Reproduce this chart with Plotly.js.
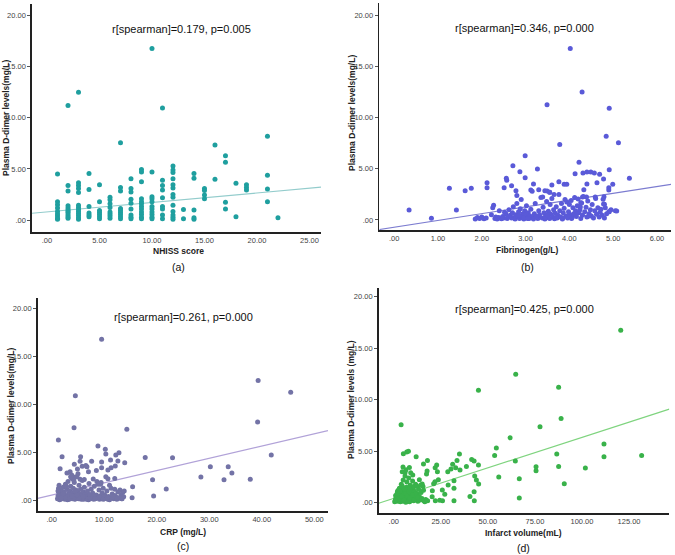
<!DOCTYPE html>
<html><head><meta charset="utf-8">
<script src="https://cdn.plot.ly/plotly-3.0.1.min.js"></script>
<style>html,body{margin:0;padding:0;background:#fff}#c{width:675px;height:555px}</style>
</head><body><div id="c"></div>
<script>
// ---------- Panel (a): NHISS score vs D-dimer ----------
var aX = [1,1,1,1,1,1,1,1,1,
 2,2,2,2,2,2,2,2,2,2,2,
 3,3,3,3,3,3,3,3,3,3,3,3,3,
 4,4,4,4,4,4,
 5,5,5,5,5,5,5,
 6,6,6,6,6,6,6,6,
 7,7,7,7,7,7,7,7,7,
 8,8,8,8,8,8,8,8,8,
 9,9,9,9,9,9,9,9,9,9,9,9,
 10,10,10,10,10,10,10,10,10,10,10,
 11,11,11,11,11,11,11,11,11,
 12,12,12,12,12,12,12,12,12,12,12,12,12,
 13,13,
 14,14,14,14,14,
 15,15,15,15,
 16,16,
 17,17,17,17,
 18,18,
 19,19,19,
 21,21,21,21,
 22];
var aY = [4.5,1.8,1.5,1.2,0.85,0.6,0.4,0.2,0.1,
 11.2,3.4,2.85,1.4,1.2,1.0,0.85,0.7,0.5,0.35,0.2,
 12.5,3.65,3.4,3.1,2.7,1.45,1.25,1.05,0.85,0.65,0.45,0.25,0.1,
 4.55,3.0,1.35,0.7,0.5,0.35,
 3.45,1.8,0.95,0.75,0.55,0.35,0.15,
 2.25,2.0,1.6,1.25,0.8,0.6,0.4,0.2,
 7.55,3.2,2.85,1.15,0.95,0.75,0.55,0.35,0.15,
 4.05,3.1,2.75,2.05,1.65,1.1,0.5,0.3,0.15,
 4.95,4.7,3.75,2.1,1.8,1.6,1.35,1.1,0.8,0.55,0.3,0.15,
 16.75,4.7,2.3,2.1,1.8,1.35,1.1,0.8,0.55,0.3,0.15,
 10.95,3.9,3.4,2.95,2.2,1.35,1.1,0.5,0.15,
 5.3,4.9,4.65,4.05,3.45,3.15,2.5,2.25,1.45,0.85,0.5,0.3,0.1,
 1.05,0.15,
 4.55,4.1,1.0,0.25,0.1,
 3.1,2.9,2.45,2.1,
 7.35,4.0,
 6.3,5.65,1.75,1.1,
 3.6,0.35,
 3.45,3.2,2.95,
 8.2,4.4,3.05,1.8,
 0.25];
var aFitX = [-1.43, 26.1], aFitY = [0.68, 3.22];

// ---------- Panel (b): Fibrinogen vs D-dimer ----------
var bX = [0.34,0.85,1.26,1.42,1.62,1.76,2.12,2.12,2.51,2.56,2.57,2.71,2.68,2.78,2.87,2.99,2.99,3.12,3.18,3.27,
 3.49,3.39,3.44,3.49,3.55,3.6,3.76,3.78,3.88,3.94,4.02,4.29,4.91,4.84,5.12,4.22,
 4.13,4.31,4.40,4.49,4.57,4.69,4.78,4.91,4.9,4.9,4.99,5.37,4.63,4.4,4.33,4.39,4.30,4.59,4.79,4.77,4.8,4.91,5.08,4.26,4.25,
 1.85,1.9,1.95,2.0,2.05,2.1,2.22,2.25,2.27,2.3,2.32,2.35,2.38,2.4,2.42,2.45,2.48,2.5,2.52,2.55,2.58,2.6,2.62,2.65,2.68,
 2.7,2.72,2.74,2.76,2.78,2.8,2.8,2.82,2.84,2.86,2.88,2.9,2.9,2.92,2.94,2.96,2.98,3.0,3.0,3.02,3.04,3.06,3.08,3.1,3.12,
 3.15,3.18,3.2,3.22,3.25,3.28,3.3,3.32,3.35,3.38,3.4,3.42,3.44,3.46,3.48,3.5,3.52,3.55,3.56,3.58,3.6,3.62,3.64,3.66,3.68,
 3.7,3.72,3.74,3.76,3.78,3.8,3.82,3.84,3.86,3.88,3.9,3.92,3.94,3.96,3.98,4.0,4.02,4.04,4.06,4.08,4.1,4.12,4.14,4.16,4.18,
 4.2,4.22,4.24,4.26,4.28,4.3,4.32,4.35,4.38,4.4,4.42,4.45,4.48,4.5,4.52,4.55,4.58,4.6,4.62,4.65,4.68,4.7,4.72,4.75,4.78,
 4.8,4.82,4.85,4.9,4.95,5.05,3.15,3.3,3.55,3.65,
 2.95,3.05,3.45,3.5,3.85,3.95,4.05,4.15,2.85,3.25,3.7,4.45];
var bY = [0.98,0.16,3.09,0.98,2.86,3.09,3.64,3.15,3.15,4.07,3.87,5.3,3.35,2.86,4.72,6.28,4.13,2.93,3.51,4.98,
 11.25,2.24,2.86,2.83,2.7,3.41,3.74,7.38,3.48,3.48,16.75,12.5,10.92,8.17,7.55,5.65,
 4.52,4.59,4.68,4.68,4.59,4.46,4.0,4.91,3.15,2.93,3.48,4.07,3.64,3.51,2.96,2.24,2.24,2.24,2.28,2.02,1.53,0.81,0.88,1.69,1.27,
 0.1,0.25,0.15,0.3,0.12,0.2,0.5,1.2,1.45,0.15,0.3,0.1,0.25,0.9,0.2,0.12,0.35,0.2,0.75,0.6,0.15,0.3,1.0,0.45,0.2,
 0.7,1.3,0.25,0.1,0.5,2.4,1.6,0.35,0.8,0.15,1.1,0.4,2.0,0.25,0.6,0.1,0.9,0.3,0.5,1.4,0.2,0.7,0.15,0.4,1.05,
 0.25,0.1,0.6,1.6,0.35,0.15,0.9,0.5,2.2,0.2,1.25,0.7,0.1,0.4,1.8,0.25,0.85,0.15,1.5,0.55,2.1,0.3,1.0,0.12,0.65,
 1.3,0.2,0.45,2.5,0.9,0.3,1.6,0.1,0.7,1.15,2.0,0.4,1.75,0.2,0.8,1.5,0.5,1.9,0.25,1.2,0.6,2.2,0.9,0.35,1.4,
 2.05,0.7,1.0,0.15,1.65,0.45,2.3,0.8,1.25,0.3,1.85,0.6,1.0,0.4,1.5,0.2,0.9,2.1,0.55,1.2,0.3,0.75,1.05,0.45,1.55,
 0.2,1.2,0.6,0.8,1.0,0.9,2.8,2.95,2.7,2.5,
 0.2,0.15,0.3,0.5,0.2,0.35,0.15,0.5,0.45,0.3,0.25,0.4];
var bFitX = [-0.34, 6.32], bFitY = [-0.93, 3.48];

// ---------- Panel (c): CRP vs D-dimer ----------
var cX = [9.5,4.5,4.25,14.3,1.27,1.97,1.59,39.3,45.5,39.2,41.8,17.8,23.0,30.2,33.6,34.3,28.4,32.8,37.8,19.2,21.8,15.4,15.3,19.4,
 8.8,10.2,10.3,12.8,12.2,5.5,5.4,4.3,6.7,5.8,6.5,7.6,9.5,11.2,12.6,13.9,12.1,11.3,10.7,9.5,8.5,7.0,4.9,3.5,2.9,3.8,4.5,5.4,
 1.1,1.2,1.3,1.3,1.4,1.5,1.6,1.7,1.8,1.9,2.0,2.1,2.2,2.3,2.4,2.5,2.6,2.7,2.8,2.9,3.0,3.1,3.2,3.3,3.4,3.5,3.6,3.7,3.8,3.9,
 4.0,4.1,4.2,4.3,4.4,4.5,4.6,4.7,4.8,4.9,5.0,5.1,5.2,5.3,5.4,5.5,5.6,5.7,5.8,5.9,6.0,6.1,6.2,6.4,6.5,6.6,6.8,7.0,7.1,7.2,
 7.4,7.5,7.6,7.8,8.0,8.1,8.2,8.4,8.5,8.6,8.8,9.0,9.1,9.2,9.3,9.5,9.6,9.8,10.0,10.1,10.3,10.5,10.7,10.8,11.0,11.2,11.5,11.8,
 12.0,12.2,12.4,12.6,12.8,13.0,13.2,13.4,13.5,13.7,13.8,
 1.5,2.0,2.5,3.0,3.5,4.0,4.5,5.0,5.5,6.0,6.5,7.0,8.0,9.0,10.0,11.0,12.0,13.0,2.2,3.3,4.4,5.5,1.2,2.8,3.6,4.2,5.0,6.2,7.9,10.3,10.7,12.0,9.4,11.3,8.8,
 1.8,2.6,3.4,4.6,5.2,6.8,7.3,8.3,9.8,10.6,11.6,12.4,13.3,3.9,4.8,6.0,7.2];
var cY = [16.78,10.92,7.59,7.42,6.31,4.58,3.33,12.5,11.26,8.18,4.75,4.5,4.47,3.54,3.54,2.88,2.46,2.18,2.22,2.18,1.21,1.46,0.31,0.49,
 5.68,5.34,4.85,4.99,4.75,4.58,4.09,3.78,3.54,3.57,3.67,4.09,4.02,4.23,4.12,3.95,3.6,3.43,3.19,3.43,3.15,3.0,3.29,3.02,2.88,2.67,2.46,2.22,
 0.2,0.5,0.9,1.3,1.6,0.3,0.15,0.7,1.1,0.4,0.2,0.6,1.4,0.3,0.9,0.15,1.7,0.5,0.25,1.2,0.4,2.0,0.7,0.15,1.0,0.3,1.5,0.55,2.3,0.2,
 0.8,1.3,0.35,1.9,0.15,0.6,1.1,0.25,2.5,0.45,0.9,0.2,1.6,0.35,0.7,1.2,0.15,0.5,2.1,0.3,0.9,0.2,1.4,0.4,0.7,0.15,1.0,0.3,1.8,0.5,
 0.2,1.2,0.35,0.8,0.15,1.5,0.4,0.25,0.6,2.0,0.3,1.1,0.15,0.5,1.7,0.25,0.8,1.3,0.2,0.6,0.3,1.0,0.15,0.45,1.6,0.25,0.7,0.2,
 1.2,0.4,0.15,0.9,0.3,1.1,0.6,0.2,0.85,0.4,1.0,
 0.1,0.35,0.5,0.1,0.6,0.3,0.2,0.45,0.3,0.15,0.35,0.1,0.5,0.35,0.45,0.1,0.55,0.25,0.75,0.45,1.0,0.55,1.0,1.5,2.5,2.1,2.8,2.2,2.25,2.5,2.29,2.32,1.9,1.3,1.7,
 0.25,0.3,0.2,0.4,0.25,0.2,0.3,0.2,0.15,0.3,0.35,0.25,0.2,0.5,0.6,0.45,0.65];
var cFitX = [-2.67, 52.6], cFitY = [0.25, 7.28];

// ---------- Panel (d): Infarct volume vs D-dimer ----------
var dX = [120.6,64.8,45.0,87.6,3.9,88.9,77.7,61.8,54.5,53.6,64.6,55.8,66.7,66.7,75.6,75.6,86.6,87.6,90.6,101.8,111.7,111.7,131.7,
 34.9,45.0,41.4,42.7,33.6,31.3,30.4,28.7,32.9,38.6,35.2,43.0,43.9,45.1,40.5,42.7,42.8,32.0,32.0,32.0,28.9,27.1,25.8,
 22.0,22.8,23.2,21.9,21.2,23.7,20.5,20.4,22.1,24.4,25.9,17.9,15.8,17.7,17.4,11.9,6.9,7.8,5.1,4.9,8.3,6.0,10.1,13.6,15.1,
 0.5,1.0,1.5,2.0,2.2,2.5,3.0,3.2,3.5,3.8,4.0,4.2,4.5,4.8,5.0,5.2,5.5,5.8,6.0,6.2,6.5,6.8,7.0,7.2,7.5,7.8,8.0,8.2,8.5,8.8,
 9.0,9.2,9.5,9.8,10.0,10.3,10.6,11.0,11.3,11.6,12.0,12.4,12.8,13.2,13.6,14.0,14.5,15.0,15.5,16.0,3.0,4.0,5.0,6.0,7.0,8.0,
 9.0,10.0,4.5,6.5,2.0,1.0,3.6,5.6,7.6,9.6,11.6,13.6,6.6,8.6,10.6,2.8,4.8,6.4,8.4,12.2,14.2,15.8,17.0,18.0,16.5,
 1.2,2.6,3.4,4.4,5.4,6.3,7.3,8.7,9.4,10.8,11.8,12.6,1.8,2.4,3.3,4.6,5.7,7.9,9.9,0.8];
var dY = [16.74,12.47,10.92,11.21,7.56,8.17,7.37,6.3,5.3,4.59,4.04,2.49,2.33,0.45,3.49,3.1,4.72,3.52,1.84,3.36,5.69,4.46,4.59,
 4.72,3.65,4.2,4.04,4.1,3.72,3.26,3.0,3.39,3.52,3.17,2.58,2.2,1.81,0.61,1.07,0.19,2.13,1.39,0.19,1.71,0.81,1.23,
 3.39,3.65,3.0,2.04,1.84,2.23,1.16,0.58,0.19,0.23,0.19,4.1,3.75,3.07,2.78,4.46,4.91,5.0,4.75,3.46,3.42,2.94,2.68,2.23,1.81,
 0.1,0.3,0.2,0.5,0.15,0.8,0.3,0.6,0.1,1.0,0.4,0.25,0.7,1.3,0.15,0.5,0.9,0.3,1.1,0.2,0.6,1.5,0.4,0.8,0.15,1.2,0.5,0.3,0.9,1.7,
 0.2,0.6,1.0,0.35,1.4,0.7,0.2,1.1,0.5,1.8,0.3,0.9,0.15,1.3,0.6,0.25,1.0,0.4,1.6,0.2,1.4,1.8,2.2,2.6,2.0,2.4,
 2.9,2.1,3.0,3.2,1.1,0.7,0.45,0.65,0.95,0.55,0.85,0.35,1.25,1.35,1.55,0.9,0.2,0.05,0.1,1.6,1.7,1.2,0.3,0.2,0.1,
 0.45,0.35,0.75,0.55,0.25,0.95,0.65,0.45,0.8,0.25,0.6,0.5,0.9,1.2,1.1,1.6,1.3,1.05,0.75,0.2];
var dFitX = [-8, 146.4], dFitY = [-0.05, 9.08];

// ---------- tick labels ----------
var yTickVals = [0,5,10,15,20];
var yTickText = ['.00','5.00','10.00','15.00','20.00'];
var aTickVals = [0,5,10,15,20,25];
var aTickText = ['.00','5.00','10.00','15.00','20.00','25.00'];
var bTickVals = [0,1,2,3,4,5,6];
var bTickText = ['.00','1.00','2.00','3.00','4.00','5.00','6.00'];
var cTickVals = [0,10,20,30,40,50];
var cTickText = ['.00','10.00','20.00','30.00','40.00','50.00'];
var dTickVals = [0,25,50,75,100,125];
var dTickText = ['.00','25.00','50.00','75.00','100.00','125.00'];

var FONT = 'Liberation Sans, Arial, sans-serif';
var W = 675, H = 555;
function px(x){return x/W;}
function py(y){return 1-y/H;}

function ax(domain, range, tv, tt, isX){
  return {domain: domain, range: range, tickvals: tv, ticktext: tt,
    showgrid:false, zeroline:false, showline:true, linecolor:'#222', linewidth:1.6,
    ticks: isX ? '' : 'outside', ticklen: isX ? 0 : 3, tickwidth:1, tickcolor:'#555',
    tickfont:{family:FONT, size:7.5, color:'#444'}, fixedrange:true};
}

var panels = [
  {x:aX, y:aY, fx:aFitX, fy:aFitY, mc:'#1f9f9f', lc:'#93cccc', xa:'x', ya:'y'},
  {x:bX, y:bY, fx:bFitX, fy:bFitY, mc:'#5a5ad8', lc:'#7c7cd0', xa:'x2', ya:'y2'},
  {x:cX, y:cY, fx:cFitX, fy:cFitY, mc:'#7373a6', lc:'#b1a2d8', xa:'x3', ya:'y3'},
  {x:dX, y:dY, fx:dFitX, fy:dFitY, mc:'#39b24a', lc:'#7fd47f', xa:'x4', ya:'y4'}
];
var data = [];
panels.forEach(function(p){
  data.push({type:'scatter', mode:'lines', x:p.fx, y:p.fy, xaxis:p.xa, yaxis:p.ya,
    line:{color:p.lc, width:1.2}, hoverinfo:'skip', showlegend:false});
  data.push({type:'scatter', mode:'markers', x:p.x, y:p.y, xaxis:p.xa, yaxis:p.ya,
    marker:{color:p.mc, size:5, line:{width:0}}, showlegend:false});
});

function ann(text, x, y, opts){
  var a = {text:text, x:px(x), y:py(y), xref:'paper', yref:'paper', showarrow:false,
    xanchor:'center', yanchor:'middle', font:{family:FONT, size:11, color:'#111'}};
  for (var k in opts) a[k]=opts[k];
  return a;
}
var bold9 = {family:FONT, size:8.5, color:'#222'};
var annotations = [
  ann('r[spearman]=0.179, p=0.005', 182, 29),
  ann('r[spearman]=0.346, p=0.000', 524, 28),
  ann('r[spearman]=0.261, p=0.000', 183, 317),
  ann('r[spearman]=0.425, p=0.000', 524, 309),
  ann('<b>NHISS score</b>', 178, 251, {font:bold9}),
  ann('<b>Fibrinogen(g/L)</b>', 527, 250, {font:bold9}),
  ann('<b>CRP (mg/L)</b>', 183, 532, {font:bold9}),
  ann('<b>Infarct volume(mL)</b>', 523, 533, {font:bold9}),
  ann('<b>Plasma D-dimer levels(mg/L)</b>', 6, 118, {font:bold9, textangle:-90}),
  ann('<b>Plasma D-dimer levels(mg/L)</b>', 352, 113, {font:bold9, textangle:-90}),
  ann('<b>Plasma D-dimer levels(mg/L)</b>', 11, 406, {font:bold9, textangle:-90}),
  ann('<b>Plasma D-dimer levels (mg/L)</b>', 351, 400, {font:bold9, textangle:-90}),
  ann('(a)', 178, 267, {font:{family:FONT, size:10.5, color:'#111'}}),
  ann('(b)', 527, 267, {font:{family:FONT, size:10.5, color:'#111'}}),
  ann('(c)', 183, 546, {font:{family:FONT, size:10.5, color:'#111'}}),
  ann('(d)', 523, 548, {font:{family:FONT, size:10.5, color:'#111'}})
];

var layout = {
  width:W, height:H, margin:{l:0,r:0,t:0,b:0}, paper_bgcolor:'#fff', plot_bgcolor:'#fff',
  showlegend:false,
  xaxis: ax([px(32),px(321)], [-1.43,26.1], aTickVals, aTickText, true),
  yaxis: ax([py(232),py(4)], [-1.15,21.1], yTickVals, yTickText),
  xaxis2: ax([px(379.3),px(671)], [-0.34,6.32], bTickVals, bTickText, true),
  yaxis2: ax([py(230),py(3)], [-0.98,21.2], yTickVals, yTickText),
  xaxis3: ax([px(37.7),px(328)], [-2.67,52.6], cTickVals, cTickText, true),
  yaxis3: ax([py(511),py(297.7)], [-1.07,21.1], yTickVals, yTickText),
  xaxis4: ax([px(378.7),px(669.3)], [-8,146.4], dTickVals, dTickText, true),
  yaxis4: ax([py(513),py(288.3)], [-1.0,20.8], yTickVals, yTickText),
  annotations: annotations
};
layout.yaxis.anchor='x'; layout.xaxis.anchor='y';
layout.yaxis2.anchor='x2'; layout.xaxis2.anchor='y2';
layout.yaxis3.anchor='x3'; layout.xaxis3.anchor='y3';
layout.yaxis4.anchor='x4'; layout.xaxis4.anchor='y4';

Plotly.newPlot('c', data, layout, {displayModeBar:false, staticPlot:true});
</script></body></html>
